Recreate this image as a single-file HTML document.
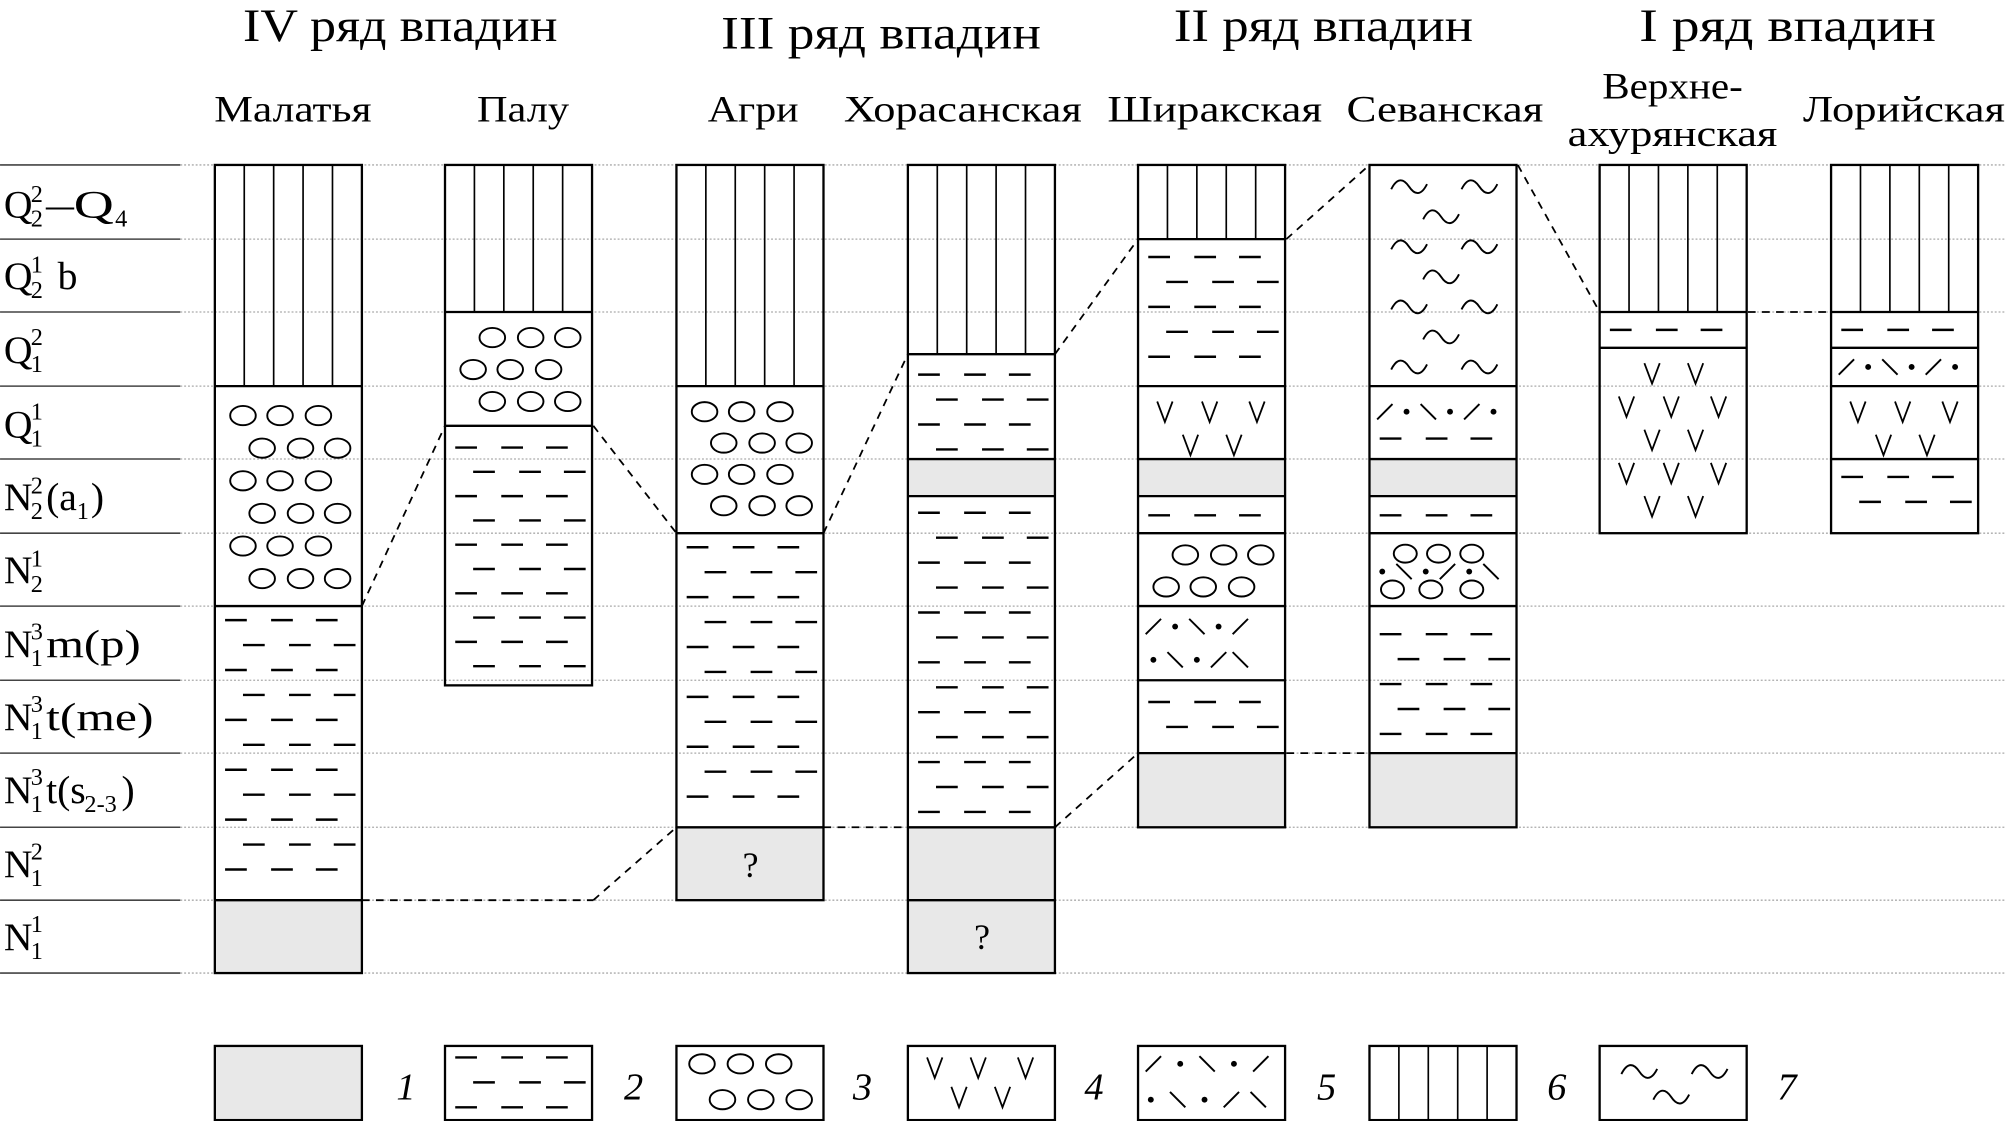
<!DOCTYPE html>
<html><head><meta charset="utf-8"><style>
html,body{margin:0;padding:0;background:#fff}
svg{display:block}
text{font-family:"Liberation Serif",serif;fill:#000}
</style></head><body>
<svg id="s" xmlns="http://www.w3.org/2000/svg" width="2005" height="1121" viewBox="0 0 1568 876.7">
<rect width="1568" height="877" fill="#fff"/>
<g id="lines"></g>
<g id="pat"></g>
<g id="txt" font-size="36">
<text x="313" y="32" text-anchor="middle" textLength="246" lengthAdjust="spacingAndGlyphs">IV ряд впадин</text>
<text x="689" y="38" text-anchor="middle" textLength="250" lengthAdjust="spacingAndGlyphs">III ряд впадин</text>
<text x="1035" y="32" text-anchor="middle" textLength="234" lengthAdjust="spacingAndGlyphs">II ряд впадин</text>
<text x="1398" y="32" text-anchor="middle" textLength="232" lengthAdjust="spacingAndGlyphs">I ряд впадин</text>
</g>
<g font-size="29">
<text x="229" y="95" text-anchor="middle" textLength="123" lengthAdjust="spacingAndGlyphs">Малатья</text>
<text x="409" y="95" text-anchor="middle" textLength="72" lengthAdjust="spacingAndGlyphs">Палу</text>
<text x="589" y="95" text-anchor="middle" textLength="71" lengthAdjust="spacingAndGlyphs">Агри</text>
<text x="753" y="95" text-anchor="middle" textLength="186" lengthAdjust="spacingAndGlyphs">Хорасанская</text>
<text x="950" y="95" text-anchor="middle" textLength="168" lengthAdjust="spacingAndGlyphs">Ширакская</text>
<text x="1130" y="95" text-anchor="middle" textLength="154" lengthAdjust="spacingAndGlyphs">Севанская</text>
<text x="1308" y="77" text-anchor="middle" textLength="110" lengthAdjust="spacingAndGlyphs">Верхне-</text>
<text x="1308" y="114" text-anchor="middle" textLength="164" lengthAdjust="spacingAndGlyphs">ахурянская</text>
<text x="1489" y="95" text-anchor="middle" textLength="158" lengthAdjust="spacingAndGlyphs">Лорийская</text>
</g>
<g font-size="31">
<text x="3" y="170">Q</text><text x="24" y="158" font-size="19">2</text><text x="24" y="177" font-size="19">2</text><text x="36" y="170" textLength="53" lengthAdjust="spacingAndGlyphs">–Q</text><text x="90" y="177" font-size="19">4</text>
<text x="3" y="226">Q</text><text x="24" y="213" font-size="19">1</text><text x="24" y="233" font-size="19">2</text><text x="45" y="226">b</text>
<text x="3" y="284">Q</text><text x="24" y="270" font-size="19">2</text><text x="24" y="291" font-size="19">1</text>
<text x="3" y="342">Q</text><text x="24" y="328" font-size="19">1</text><text x="24" y="349" font-size="19">1</text>
<text x="3" y="399">N</text><text x="24" y="386" font-size="19">2</text><text x="24" y="406" font-size="19">2</text><text x="36" y="399">(a</text><text x="60" y="406" font-size="19">1</text><text x="71" y="399">)</text>
<text x="3" y="456">N</text><text x="24" y="443" font-size="19">1</text><text x="24" y="463" font-size="19">2</text>
<text x="3" y="514">N</text><text x="24" y="500" font-size="19">3</text><text x="24" y="521" font-size="19">1</text><text x="36" y="514" textLength="74" lengthAdjust="spacingAndGlyphs">m(p)</text>
<text x="3" y="571">N</text><text x="24" y="557" font-size="19">3</text><text x="24" y="578" font-size="19">1</text><text x="36" y="571" textLength="84" lengthAdjust="spacingAndGlyphs">t(me)</text>
<text x="3" y="628">N</text><text x="24" y="614" font-size="19">3</text><text x="24" y="635" font-size="19">1</text><text x="36" y="628">t(s</text><text x="66" y="635" font-size="19">2-3</text><text x="95" y="628">)</text>
<text x="3" y="686">N</text><text x="24" y="672" font-size="19">2</text><text x="24" y="693" font-size="19">1</text>
<text x="3" y="743">N</text><text x="24" y="729" font-size="19">1</text><text x="24" y="750" font-size="19">1</text>
</g>
<g font-size="30" font-style="italic">
<text x="310" y="860">1</text><text x="488" y="860">2</text><text x="667" y="860">3</text><text x="848" y="860">4</text><text x="1030" y="860">5</text><text x="1210" y="860">6</text><text x="1390" y="860">7</text>
</g>
<g font-size="28">
<text x="587" y="686" text-anchor="middle">?</text>
<text x="768" y="742" text-anchor="middle">?</text>
</g>
</svg>
<script>
var NS="http://www.w3.org/2000/svg";
var L=document.getElementById('lines'),P=document.getElementById('pat');
function el(g,t,a){var e=document.createElementNS(NS,t);for(var k in a)e.setAttribute(k,a[k]);g.appendChild(e);return e;}
var W=115;
var rows=[129,187,244,302,359,417,474,532,589,647,704,761];
rows.forEach(function(y){
 el(L,'line',{x1:0,y1:y,x2:141,y2:y,stroke:'#444','stroke-width':1.2});
 el(L,'line',{x1:141,y1:y,x2:1568,y2:y,stroke:'#aaa','stroke-width':1,'stroke-dasharray':'1.5,1.5'});
});
function gray(x,y1,y2){el(P,'rect',{x:x,y:y1,width:W,height:y2-y1,fill:'#e8e8e8'});}
function vert(x,y1,y2){for(var k=1;k<5;k++){var xx=x+W*k/5;el(P,'line',{x1:xx,y1:y1,x2:xx,y2:y2,stroke:'#000','stroke-width':1.3});}}
function circ(x,y1,y2,start,right,step){step=step||25;var i=right?1:0;for(var y=y1+start;y<y2-8;y+=step,i++){var xs=(i%2==0)?[22,51,81]:[37,67,96];xs.forEach(function(d){el(P,'ellipse',{cx:x+d,cy:y,rx:10,ry:7.5,fill:'none',stroke:'#000','stroke-width':1.5});});}}
function dline(x1,y){el(P,'line',{x1:x1,y1:y,x2:x1+17,y2:y,stroke:'#000','stroke-width':1.9});}
function dash(x,y1,y2,start,right,step){step=step||19.5;start=start||11;var i=right?1:0;for(var y=y1+start;y<y2-5;y+=step,i++){var o=(i%2==0)?0:14;[8,44,79].forEach(function(d){dline(x+d+o,y);});}}
function vee(cx,cy){el(P,'path',{d:'M'+(cx-6)+' '+(cy-8)+' L'+cx+' '+(cy+8)+' L'+(cx+6)+' '+(cy-8),fill:'none',stroke:'#000','stroke-width':1.4});}
function vees(x,y1,n,first3){var y=y1+20;for(var i=0;i<n;i++,y+=26){var three=(i%2==0)==first3;var xs=three?[21,56,93]:[41,75];xs.forEach(function(d){vee(x+d,y);});}}
function wave(cx,cy){var a=cx-14;el(P,'path',{d:'M'+a+' '+(cy+2)+' C'+(a+5)+' '+(cy-8)+' '+(a+10)+' '+(cy-6)+' '+(a+14)+' '+cy+' C'+(a+18)+' '+(cy+6)+' '+(a+23)+' '+(cy+8)+' '+(a+28)+' '+(cy-2),fill:'none',stroke:'#000','stroke-width':1.5});}
function waves(x,y1,n){var y=y1+17;for(var i=0;i<n;i++,y+=23.5){if(i%2==0){wave(x+31,y);wave(x+86,y);}else wave(x+56,y);}}
function p5(x,cy,seq,x0,sp){x0=x0||12;sp=sp||17;for(var i=0;i<seq.length;i++){var c=seq[i],cx=x+x0+i*sp;
 if(c=='.')el(P,'circle',{cx:cx,cy:cy,r:2.3,fill:'#000'});
 else if(c=='/')el(P,'line',{x1:cx-6,y1:cy+6,x2:cx+6,y2:cy-6,stroke:'#000','stroke-width':1.5});
 else if(c=='\\')el(P,'line',{x1:cx-6,y1:cy-6,x2:cx+6,y2:cy+6,stroke:'#000','stroke-width':1.5});}}
function box(x,y1,y2,divs){divs.forEach(function(y){el(P,'line',{x1:x,y1:y,x2:x+W,y2:y,stroke:'#000','stroke-width':1.8});});el(P,'rect',{x:x,y:y1,width:W,height:y2-y1,fill:'none',stroke:'#000','stroke-width':1.8});}
function dl(x1,y1,x2,y2){el(P,'line',{x1:x1,y1:y1,x2:x2,y2:y2,stroke:'#000','stroke-width':1.4,'stroke-dasharray':'6,5'});}

var x=168;vert(x,129,302);circ(x,302,474,23,false,25.5);dash(x,474,704,11);gray(x,704,761);box(x,129,761,[302,474,704]);
x=348;vert(x,129,244);circ(x,244,333,20,true,25);dash(x,333,536,17,false,19);box(x,129,536,[244,333]);
x=529;vert(x,129,302);circ(x,302,417,20,false,24.5);dash(x,417,647,11);gray(x,647,704);box(x,129,704,[302,417,647]);
x=710;vert(x,129,277);dash(x,277,359,16);gray(x,359,388);dash(x,388,647,13);gray(x,647,704);gray(x,704,761);box(x,129,761,[277,359,388,647,704]);
x=890;vert(x,129,187);dash(x,187,302,14);vees(x,302,2,true);gray(x,359,388);dash(x,388,417,15);circ(x,417,474,17,true,25);
p5(x,490,'/.\\./');p5(x,516,'.\\./\\');dash(x,532,589,17);gray(x,589,647);box(x,129,647,[187,302,359,388,417,474,532,589]);
x=1071;waves(x,129,7);p5(x,322,'/.\\./.');
[8,44,79].forEach(function(d){dline(x+d,343);});
gray(x,359,388);dash(x,388,417,15);
[28,54,80].forEach(function(d){el(P,'ellipse',{cx:x+d,cy:433,rx:9,ry:7,fill:'none',stroke:'#000','stroke-width':1.5});});
p5(x,447,'.\\./.\\',10,17);
[18,48,80].forEach(function(d){el(P,'ellipse',{cx:x+d,cy:461,rx:9,ry:7,fill:'none',stroke:'#000','stroke-width':1.5});});
dash(x,474,589,22);gray(x,589,647);box(x,129,647,[302,359,388,417,474,589]);
x=1251;vert(x,129,244);[8,44,79].forEach(function(d){dline(x+d,258);});
vees(x,272,5,false);box(x,129,417,[244,272]);
x=1432;vert(x,129,244);[8,44,79].forEach(function(d){dline(x+d,258);});
p5(x,287,'/.\\./.',12,17);vees(x,302,2,true);dash(x,359,417,14);box(x,129,417,[244,272,302,359]);
dl(283,474,348,333);dl(283,704,464,704);dl(464,704,529,647);dl(464,333,529,417);
dl(644,417,710,277);dl(644,647,710,647);dl(825,647,890,589);dl(825,277,890,187);
dl(1006,187,1071,129);dl(1006,589,1071,589);dl(1187,129,1251,244);dl(1367,244,1432,244);
var ly1=818,ly2=876;
x=168;gray(x,ly1,ly2);box(x,ly1,ly2,[]);
x=348;dash(x,ly1,ly2,9,false,19.5);box(x,ly1,ly2,[]);
x=529;[20,50,80].forEach(function(d){el(P,'ellipse',{cx:x+d,cy:832,rx:10,ry:7.5,fill:'none',stroke:'#000','stroke-width':1.5});});
[36,66,96].forEach(function(d){el(P,'ellipse',{cx:x+d,cy:860,rx:10,ry:7.5,fill:'none',stroke:'#000','stroke-width':1.5});});box(x,ly1,ly2,[]);
x=710;[21,55,92].forEach(function(d){vee(x+d,835);});[40,74].forEach(function(d){vee(x+d,858);});box(x,ly1,ly2,[]);
x=890;p5(x,832,'/.\\./',12,21);p5(x,860,'.\\./\\',10,21);box(x,ly1,ly2,[]);
x=1071;vert(x,ly1,ly2);box(x,ly1,ly2,[]);
x=1251;wave(x+31,838);wave(x+86,838);wave(x+56,858);box(x,ly1,ly2,[]);
</script>
</body></html>
